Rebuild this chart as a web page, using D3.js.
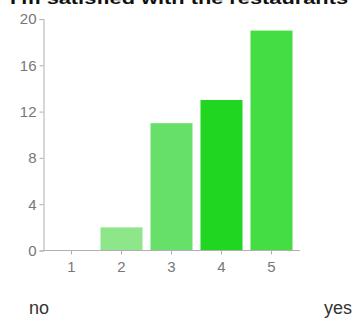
<!DOCTYPE html>
<html><head><meta charset="utf-8">
<script src="https://cdn.jsdelivr.net/npm/d3@7"></script>
<style>body{margin:0;background:#fff}svg{display:block}</style>
</head><body>
<script>
const title = "I'm satisfied with the restaurants";
const categories = ["1","2","3","4","5"];
const values = [0, 2, 11, 13, 19];
const colors = ["#8ee68b","#8ee68b","#66e068","#20d620","#44dd44"];
const yTicks = [0,4,8,12,16,20];
const lowLabel = "no", highLabel = "yes";

const W=355,H=323;
const svg=d3.select("body").append("svg").attr("width",W).attr("height",H);
const x=d3.scaleBand().domain(categories).range([43,300]).paddingInner(0.16).paddingOuter(0.15);
const y=d3.scaleLinear().domain([0,20]).range([250.5,19]);
const font="Liberation Sans, Arial, sans-serif";

svg.append("text").attr("x",10).attr("y",4).attr("font-family",font).attr("font-weight","bold")
  .attr("font-size",16).attr("fill","#111").attr("textLength",338).attr("lengthAdjust","spacingAndGlyphs").text(title);

svg.selectAll("rect.bar").data(values).join("rect").attr("class","bar")
  .attr("x",(d,i)=>x(categories[i])).attr("width",x.bandwidth())
  .attr("y",d=>y(d)).attr("height",d=>y(0)-y(d)).attr("fill",(d,i)=>colors[i]);

const ya=svg.append("g").attr("transform","translate(43.5,0)")
  .call(d3.axisLeft(y).tickValues(yTicks).tickSize(4).tickSizeOuter(4).tickPadding(3));
ya.selectAll("path,line").attr("stroke","#b0b0b0");
ya.selectAll("text").attr("font-family",font).attr("font-size",15).attr("fill","#777");

const xa=svg.append("g").attr("transform","translate(0,250.5)")
  .call(d3.axisBottom(x).tickSize(4).tickSizeOuter(0).tickPadding(7));
xa.select("path.domain").attr("d","M43,0H300");
xa.selectAll("path,line").attr("stroke","#b0b0b0");
xa.selectAll("text").attr("font-family",font).attr("font-size",15).attr("fill","#777");

svg.append("text").attr("x",29).attr("y",314).attr("font-family",font).attr("font-size",18).attr("fill","#333").text(lowLabel);
svg.append("text").attr("x",352).attr("y",314).attr("text-anchor","end").attr("font-family",font).attr("font-size",18).attr("fill","#333").text(highLabel);
</script>
</body></html>
